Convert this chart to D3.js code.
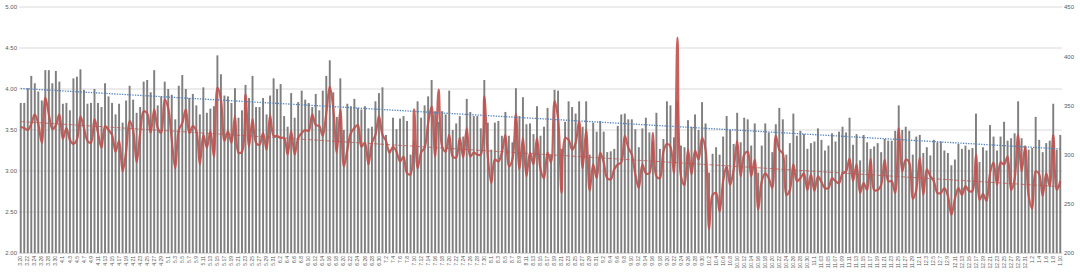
<!DOCTYPE html>
<html>
<head>
<meta charset="utf-8">
<script src="https://cdn.jsdelivr.net/npm/d3@7"></script>
<style>
  body { margin: 0; background: #fff; }
  svg { display: block; font-family: "Liberation Sans", Arial, sans-serif; }
</style>
</head>
<body>
<svg id="chart"></svg>
<script>
// days shown: 3.20 .. 1.10, one bar per day
const monthSpans = [[3, 20, 31], [4, 1, 30], [5, 1, 31], [6, 1, 30], [7, 1, 31], [8, 1, 31],
                    [9, 1, 30], [10, 1, 31], [11, 1, 30], [12, 1, 31], [1, 1, 10]]

const barValues = [
  3.83,3.83,4.01,4.16,4.07,3.97,3.86,4.23,4.23,4.07,4.22,4.09,3.82,3.83,3.74,4.13,4.15,4.24,3.99,3.82,3.83,4.00,3.83,3.78,4.07,3.91,3.83,3.69,3.82,3.59,3.86,4.04,3.87,3.71,3.78,4.09,4.11,3.96,4.23,3.80,3.91,4.09,4.00,3.93,3.63,4.04,
  4.17,4.00,3.89,3.94,3.80,3.69,4.02,3.71,3.76,3.79,4.41,4.18,3.92,3.91,3.83,4.01,3.65,3.74,4.05,3.89,4.16,3.78,3.78,3.89,3.69,3.92,4.13,4.00,4.06,3.67,3.54,3.95,3.65,3.84,3.98,3.87,3.83,3.78,3.94,3.74,3.98,4.16,4.35,3.96,3.66,4.13,3.50,3.82,3.79,
  3.88,3.77,3.75,3.79,3.52,3.54,3.85,3.95,4.02,3.44,3.26,3.65,3.51,3.64,3.67,3.61,3.20,3.37,3.85,3.65,3.80,3.91,4.11,3.73,3.60,3.73,3.69,3.98,3.50,3.58,3.67,3.42,3.88,3.72,3.67,3.67,3.52,4.11,3.59,3.26,3.59,3.61,3.43,3.72,3.43,3.35,4.01,3.67,3.90,3.57,
  3.58,3.45,3.79,3.43,3.54,3.77,3.20,3.99,3.98,3.27,3.60,3.85,3.78,3.70,3.85,3.54,3.85,3.20,3.59,3.48,3.61,3.48,3.23,3.24,3.27,3.55,3.69,3.70,3.63,3.63,3.51,3.29,3.52,3.65,3.47,3.36,3.71,3.27,3.39,3.85,3.80,3.41,3.85,3.31,3.29,3.62,3.54,3.69,3.50,3.84,
  3.58,2.98,3.21,3.29,3.20,3.42,3.67,3.50,3.33,3.71,3.35,3.65,3.63,3.31,3.58,2.98,3.31,3.58,3.47,3.23,3.57,3.77,3.63,3.20,3.34,3.70,3.43,3.49,3.45,3.27,3.34,3.36,3.52,3.38,3.25,3.31,3.46,3.36,3.48,3.54,3.47,3.65,3.32,3.45,3.13,3.44,3.35,3.27,3.30,3.34,
  3.23,3.39,3.37,3.37,3.49,3.80,3.50,3.54,3.49,3.20,3.42,3.44,3.22,3.29,3.19,3.38,3.35,3.36,3.25,3.22,3.07,3.14,3.33,3.27,3.31,3.26,3.28,3.70,3.11,3.29,3.25,3.56,3.42,3.25,3.42,3.60,3.37,3.40,3.46,3.85,3.40,3.31,3.26,3.28,3.66,3.38,3.23,3.34,3.37,3.82,3.26,3.44
]

const lineValues = [
  328,327,325,331,341,331,312,358,341,326,330,341,316,327,315,311,315,339,327,314,312,336,322,307,329,325,320,303,314,283,303,334,325,292,322,344,342,322,346,327,322,356,347,315,286,325,
  332,346,322,329,324,290,320,307,324,298,368,356,314,324,312,339,302,303,361,308,336,312,310,322,305,340,319,319,317,317,300,324,300,317,322,325,324,341,330,329,319,342,369,347,302,346,288,305,322,
  327,330,308,312,290,312,320,339,320,314,302,308,303,293,298,281,280,346,286,302,307,332,349,298,366,308,303,320,298,297,317,297,327,298,302,300,300,359,298,271,295,293,302,320,288,295,341,285,317,278,
  302,290,317,285,276,302,292,354,337,261,317,315,305,312,334,286,325,263,290,276,302,292,276,275,285,290,292,319,307,300,280,266,290,281,281,322,278,276,303,311,308,281,419,278,269,305,280,304,295,317,
  305,224,259,261,242,273,288,269,285,314,278,300,303,278,295,244,273,281,276,266,319,305,301,259,264,290,273,276,281,264,280,263,278,272,266,266,276,273,271,281,283,296,273,290,261,271,264,296,264,264,
  269,295,273,273,261,327,283,295,292,255,264,297,259,285,278,273,261,261,266,258,239,255,266,259,268,263,263,300,254,260,253,281,292,269,292,290,298,264,275,320,283,308,258,245,283,280,258,281,268,320,264,273
]

const leftTicks = [2.0, 2.5, 3.0, 3.5, 4.0, 4.5, 5.0]
const rightTicks = [200, 250, 300, 350, 400, 450]

// build category labels, november 2..9 were written with a leading zero
var categories = []
for (var m of monthSpans) {
    for (var d = m[1]; d <= m[2]; d++) {
        var day = (m[0] == 11 && d > 1 && d < 10) ? "0" + d : "" + d
        categories.push(m[0] + "." + day)
    }
}

const W = 1080, H = 276
const svg = d3.select("#chart").attr("width", W).attr("height", H)

const x = d3.scaleBand()
    .domain(d3.range(categories.length))
    .range([19, 1062])
    .paddingInner(0.45)
    .paddingOuter(0.22)
const yL = d3.scaleLinear().domain([2, 5]).range([253, 7])
const yR = d3.scaleLinear().domain([200, 450]).range([253, 7])
const cx = i => x(i) + x.bandwidth() / 2

// gridlines
svg.append("g").selectAll("line")
    .data(leftTicks)
    .join("line")
    .attr("x1", 19).attr("x2", 1062)
    .attr("y1", d => yL(d)).attr("y2", d => yL(d))
    .attr("stroke", "#d9d9d9")
    .attr("stroke-width", 1)

// bars
svg.append("g").selectAll("rect")
    .data(barValues)
    .join("rect")
    .attr("x", (d, i) => x(i))
    .attr("width", x.bandwidth())
    .attr("y", d => yL(d))
    .attr("height", d => yL(2) - yL(d))
    .attr("fill", "#7f7f7f")

// linear trend helper
function trend(vals) {
    var n = vals.length
    var mx = d3.mean(d3.range(n)), my = d3.mean(vals)
    var sxy = d3.sum(vals, (v, i) => (i - mx) * (v - my))
    var sxx = d3.sum(d3.range(n), i => (i - mx) * (i - mx))
    var b = sxy / sxx
    return [[0, my - b * mx], [n - 1, my + b * (n - 1 - mx)]]
}

// smoothed red line (right axis)
svg.append("path")
    .datum(lineValues)
    .attr("fill", "none")
    .attr("stroke", "#c0504d")
    .attr("stroke-width", 2.2)
    .attr("stroke-opacity", 0.9)
    .attr("stroke-linejoin", "round")
    .attr("d", d3.line().x((d, i) => cx(i)).y(d => yR(d)).curve(d3.curveCatmullRom.alpha(0.5)))

// trend lines
const barTrend = trend(barValues)
svg.append("line")
    .attr("x1", cx(barTrend[0][0])).attr("y1", yL(barTrend[0][1]))
    .attr("x2", cx(barTrend[1][0])).attr("y2", yL(barTrend[1][1]))
    .attr("stroke", "#4f81bd")
    .attr("stroke-width", 1.3)
    .attr("stroke-dasharray", "1.3,1.3")

const lineTrend = trend(lineValues)
svg.append("line")
    .attr("x1", cx(lineTrend[0][0])).attr("y1", yR(lineTrend[0][1]))
    .attr("x2", cx(lineTrend[1][0])).attr("y2", yR(lineTrend[1][1]))
    .attr("stroke", "#c0504d")
    .attr("stroke-opacity", 0.75)
    .attr("stroke-width", 1)
    .attr("stroke-dasharray", "4,2")

// left axis
const axL = svg.append("g")
    .attr("transform", "translate(17,0)")
    .call(d3.axisLeft(yL).tickValues(leftTicks).tickFormat(d3.format(".2f")).tickSize(0).tickPadding(0))
axL.select(".domain").remove()
axL.selectAll("text").attr("font-size", 6).attr("fill", "#595959").attr("font-family", null)

// right axis
const axR = svg.append("g")
    .attr("transform", "translate(1064,0)")
    .call(d3.axisRight(yR).tickValues(rightTicks).tickSize(0).tickPadding(0))
axR.select(".domain").remove()
axR.selectAll("text").attr("font-size", 6).attr("fill", "#595959").attr("font-family", null)

// category axis, every second day
const axX = svg.append("g")
    .attr("transform", "translate(0,253)")
    .call(d3.axisBottom(x).tickValues(d3.range(0, categories.length, 2)).tickFormat(i => categories[i]).tickSize(0))
axX.select(".domain").attr("stroke", "#d9d9d9")
axX.selectAll("text")
    .attr("font-size", 5)
    .attr("fill", "#595959")
    .attr("font-family", null)
    .attr("text-anchor", "end")
    .attr("dy", "0.32em")
    .attr("y", 0)
    .attr("transform", "translate(0,3) rotate(-90)")
</script>
</body>
</html>
